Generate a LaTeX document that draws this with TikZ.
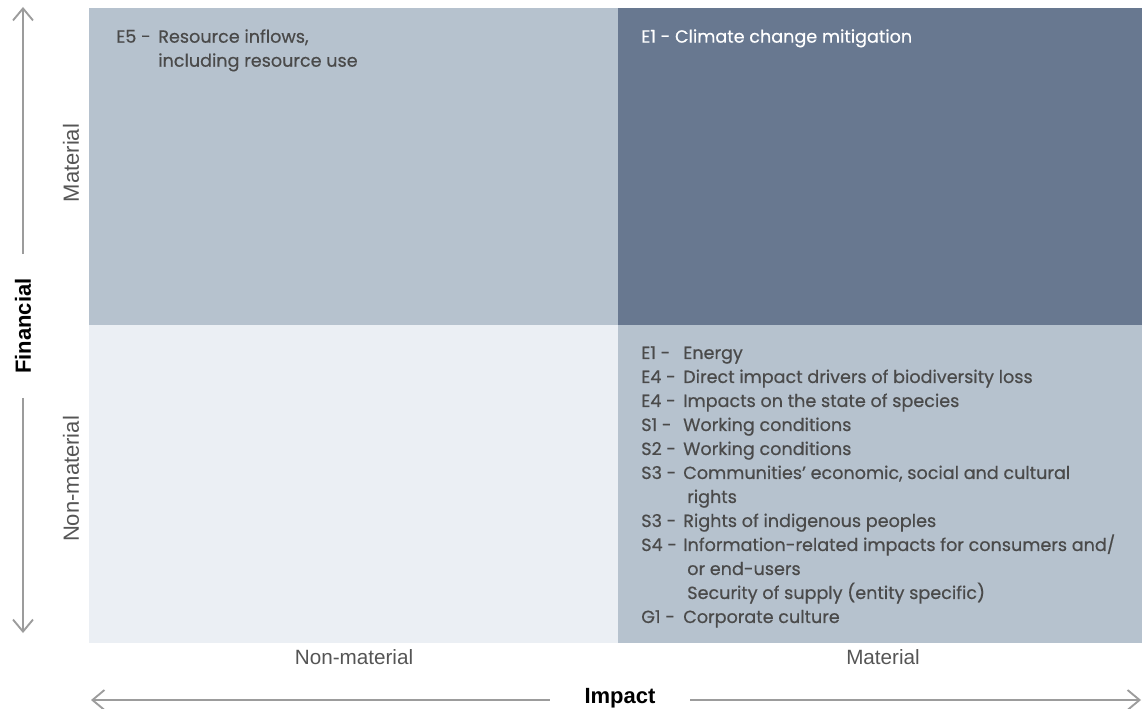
\documentclass[tikz,border=0pt]{standalone}
\usepackage{fontspec}
\setmainfont{Poppins}[FakeBold=0.5]
\newfontfamily\axisfont{Liberation Sans}
\usetikzlibrary{arrows.meta, positioning, calc, fit}

\definecolor{quadlight}{HTML}{B6C2CE}
\definecolor{quaddark}{HTML}{687890}
\definecolor{quadpale}{HTML}{EBEFF4}
\definecolor{inktext}{HTML}{4A4A4A}
\definecolor{axistext}{HTML}{555555}
\definecolor{axisgrey}{HTML}{9C9C9C}

\newcommand{\esrs}[1]{\makebox[31.5pt][l]{#1}}
\newcommand{\cont}{\hspace*{34.5pt}}

\begin{document}
\begin{tikzpicture}[
    x=0.75pt, y=0.75pt,
    quad/.style     = {draw=none, inner sep=0pt, outer sep=0pt},
    entry/.style    = {anchor=north west, align=left, inner sep=0pt,
                       font=\fontsize{13.2}{18}\selectfont, text=inktext},
    axislab/.style  = {font=\axisfont\fontsize{15.5}{17}\selectfont, text=axistext},
    sidelab/.style  = {axislab, rotate=90, font=\axisfont\fontsize{16.5}{18}\selectfont},
    axishead/.style = {font=\axisfont\bfseries\fontsize{16.5}{18}\selectfont, text=black},
    axisarr/.style  = {-{Straight Barb[length=9pt, width=15pt]}, line width=1.4pt, axisgrey}
  ]
  \useasboundingbox (0,0) rectangle (1143,-709);

  % --- quadrants ---
  \node[quad, fill=quadlight, fit={(89,-8) (618,-325)}]    (qTL) {};
  \node[quad, fill=quaddark,  fit={(618,-8) (1142,-325)}]  (qTR) {};
  \node[quad, fill=quadpale,  fit={(89,-325) (618,-643)}]  (qBL) {};
  \node[quad, fill=quadlight, fit={(618,-325) (1142,-643)}] (qBR) {};

  % --- topics ---
  \node[entry] (tTL) at ($(qTL.north west)+(27,-21)$)
    {\esrs{E5 -}Resource inflows,\\
     \esrs{}including resource use};
  \node[entry, text=white] (tTR) at ($(qTR.north west)+(23,-21)$)
    {E1 - Climate change mitigation};
  \node[entry] (tBR) at ($(qBR.north west)+(23,-21)$)
    {\esrs{E1 -}Energy\\
     \esrs{E4 -}Direct impact drivers of biodiversity loss\\
     \esrs{E4 -}Impacts on the state of species\\
     \esrs{S1 -}Working conditions\\
     \esrs{S2 -}Working conditions\\
     \esrs{S3 -}Communities' economic, social and cultural\\
     \cont rights\\
     \esrs{S3 -}Rights of indigenous peoples\\
     \esrs{S4 -}Information-related impacts for consumers and/\\
     \cont or end-users\\
     \cont Security of supply (entity specific)\\
     \esrs{G1 -}Corporate culture};

  % --- axis labels ---
  \node[sidelab] (finmat) at (71,-163) {Material};
  \node[sidelab] (finnon) at (71,-479) {Non-material};
  \node[axislab] (impnon) at (354,-657) {Non-material};
  \node[axislab] (impmat) at (883,-657) {Material};

  \node[axishead, rotate=90, inner xsep=18pt] (fin) at (23,-326) {Financial};
  \node[axishead, inner xsep=26pt] (imp) at (620,-698) {Impact};

  % --- axes ---
  \coordinate (fintop)   at (23,-7);
  \coordinate (finbot)   at (23,-633);
  \coordinate (impleft)  at (91,-700);
  \coordinate (impright) at (1141,-700);

  \draw[axisarr] (fin.east -| fintop) -- (fintop);
  \draw[axisarr] (fin.west -| finbot) -- (finbot);
  \draw[axisarr] (imp.west |- impleft) -- (impleft);
  \draw[axisarr] (imp.east |- impright) -- (impright);

\end{tikzpicture}
\end{document}
